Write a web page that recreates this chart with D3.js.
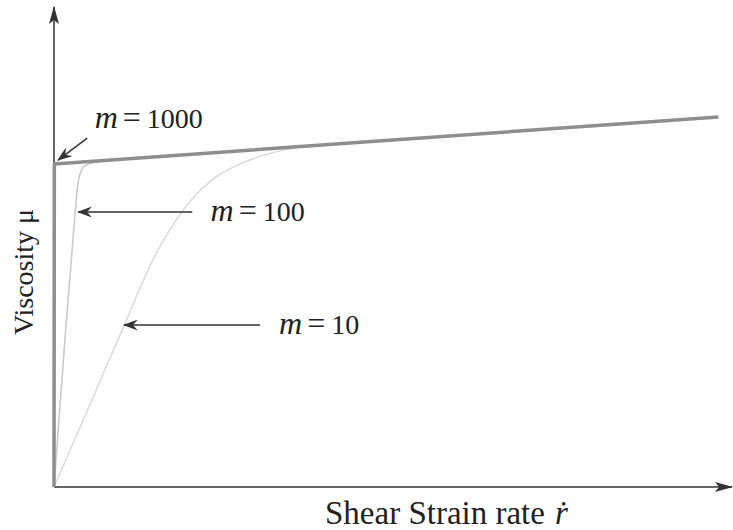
<!DOCTYPE html>
<html>
<head>
<meta charset="utf-8">
<script src="https://cdn.jsdelivr.net/npm/d3@7"></script>
<style>
  body { margin: 0; background: #fff; }
</style>
</head>
<body>
<div id="chart"></div>
<script>
// shear rate (x) and viscosity (y), arbitrary units
var m1000X = [0, 0.005, 9.8];
var m1000Y = [0, 6.73, 7.71];

var m100X = [0, 0.074, 0.162, 0.251, 0.31, 0.34, 0.383, 0.457, 0.59, 0.81];
var m100Y = [0, 1.42, 3.08, 4.65, 5.69, 6.17, 6.52, 6.69, 6.76, 6.81];

var m10X = [0, 0.31, 0.605, 0.826, 1.02, 1.27, 1.52, 1.78, 2.05, 2.37, 2.74, 3.11, 3.55];
var m10Y = [0, 1.0, 1.96, 2.69, 3.31, 4.15, 4.9, 5.52, 6.02, 6.44, 6.73, 6.92, 7.06];

var mValues = ["1000", "100", "10"];

var w = 733;
var h = 530;
var serif = "'Liberation Serif', 'Times New Roman', serif";

var xScale = d3.scaleLinear().domain([0, 10]).range([54, 732]);
var yScale = d3.scaleLinear().domain([0, 10]).range([487, 7]);

var svg = d3.select("#chart").append("svg")
  .attr("width", w)
  .attr("height", h);

var defs = svg.append("defs");
defs.append("marker")
  .attr("id", "axisHead")
  .attr("viewBox", "0 0 18 10")
  .attr("refX", 17).attr("refY", 5)
  .attr("markerWidth", 18).attr("markerHeight", 10)
  .attr("markerUnits", "userSpaceOnUse")
  .attr("orient", "auto")
  .append("path")
  .attr("d", "M0,0 L18,5 L0,10 L4,5 Z")
  .attr("fill", "#333");

defs.append("marker")
  .attr("id", "noteHead")
  .attr("viewBox", "0 0 15 11")
  .attr("refX", 14).attr("refY", 5.5)
  .attr("markerWidth", 15).attr("markerHeight", 11)
  .attr("markerUnits", "userSpaceOnUse")
  .attr("orient", "auto")
  .append("path")
  .attr("d", "M0,0 L15,5.5 L0,11 L5,5.5 Z")
  .attr("fill", "#333");

// axes with arrows
svg.append("line")
  .attr("x1", xScale(0)).attr("y1", yScale(0))
  .attr("x2", xScale(0)).attr("y2", yScale(10))
  .attr("stroke", "#333").attr("stroke-width", 1.5)
  .attr("marker-end", "url(#axisHead)");

svg.append("line")
  .attr("x1", xScale(0)).attr("y1", yScale(0))
  .attr("x2", xScale(10)).attr("y2", yScale(0))
  .attr("stroke", "#333").attr("stroke-width", 1.5)
  .attr("marker-end", "url(#axisHead)");

var series = [
  { x: m10X, y: m10Y, color: "#d8d8d8", width: 1.4, curve: d3.curveMonotoneX },
  { x: m100X, y: m100Y, color: "#cbcbcb", width: 1.6, curve: d3.curveMonotoneX },
  { x: m1000X, y: m1000Y, color: "#8e8e8e", width: 3.5, curve: d3.curveLinear }
];

series.forEach(function (s) {
  var pts = s.x.map(function (v, i) { return [v, s.y[i]]; });
  var line = d3.line()
    .x(function (d) { return xScale(d[0]); })
    .y(function (d) { return yScale(d[1]); })
    .curve(s.curve);
  svg.append("path")
    .attr("d", line(pts))
    .attr("fill", "none")
    .attr("stroke", s.color)
    .attr("stroke-width", s.width)
    .attr("stroke-linejoin", "round");
});

// annotation arrows, in data units
var arrowFrom = [[0.49, 7.27], [2.04, 5.73], [3.04, 3.375]];
var arrowTo = [[0.06, 6.81], [0.354, 5.73], [1.03, 3.375]];
var labelAt = [[0.6, 7.48], [2.31, 5.54], [3.32, 3.19]];

mValues.forEach(function (val, i) {
  svg.append("line")
    .attr("x1", xScale(arrowFrom[i][0])).attr("y1", yScale(arrowFrom[i][1]))
    .attr("x2", xScale(arrowTo[i][0])).attr("y2", yScale(arrowTo[i][1]))
    .attr("stroke", "#333").attr("stroke-width", 1.5)
    .attr("marker-end", "url(#noteHead)");

  var t = svg.append("text")
    .attr("x", xScale(labelAt[i][0]))
    .attr("y", yScale(labelAt[i][1]))
    .attr("font-family", serif)
    .attr("fill", "#222")
    .attr("font-size", 28);
  t.append("tspan").attr("font-style", "italic").attr("font-size", 32).text("m");
  t.append("tspan").attr("dx", 5).attr("font-size", 32).text("=");
  t.append("tspan").attr("dx", 6).text(val);
});

// axis titles
var xt = svg.append("text")
  .attr("x", 325)
  .attr("y", 524)
  .attr("font-family", serif)
  .attr("fill", "#222")
  .attr("font-size", 33);
xt.append("tspan").text("Shear Strain rate");
xt.append("tspan").attr("dx", 10).attr("font-style", "italic").text("\u1E59");

svg.append("text")
  .attr("transform", "translate(33,272) rotate(-90)")
  .attr("text-anchor", "middle")
  .attr("font-family", serif)
  .attr("fill", "#222")
  .attr("font-size", 28)
  .text("Viscosity \u03BC");
</script>
</body>
</html>
